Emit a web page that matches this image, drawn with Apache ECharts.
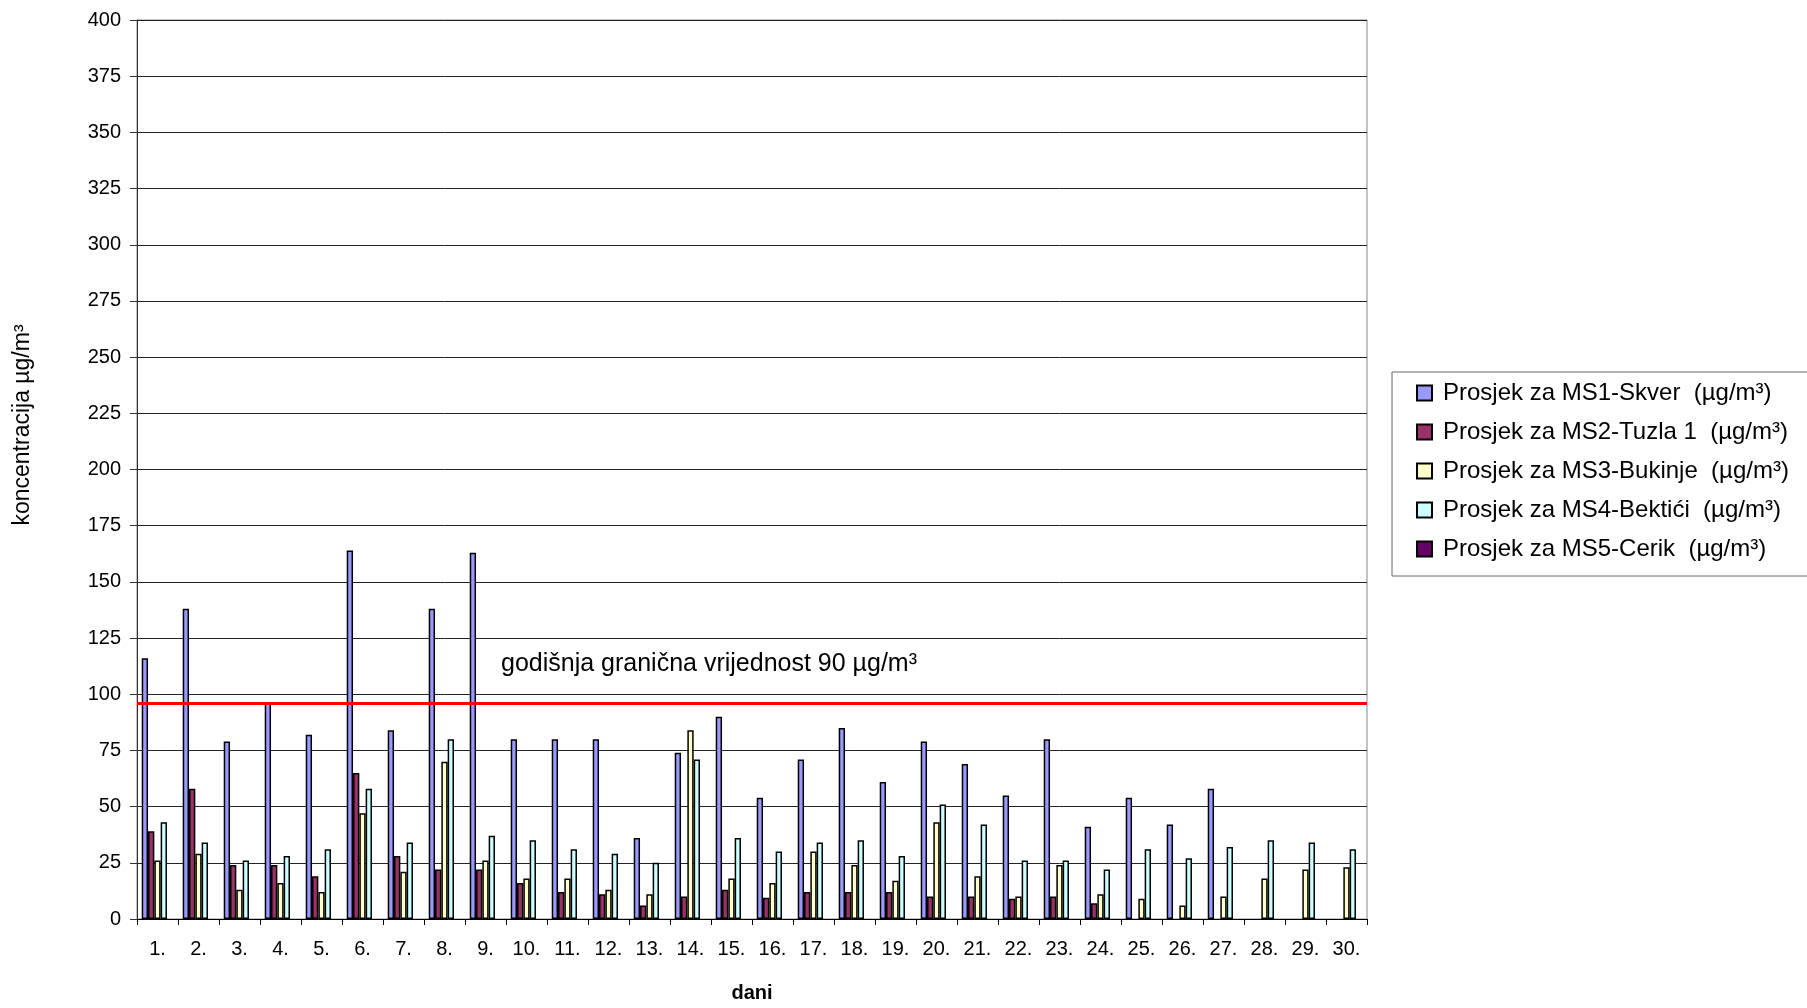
<!DOCTYPE html>
<html>
<head>
<meta charset="utf-8">
<script src="https://cdn.jsdelivr.net/npm/echarts@6/dist/echarts.min.js"></script>
<style>
html,body{margin:0;padding:0;background:#fff;}
#chart{width:1807px;height:1008px;}
</style>
</head>
<body>
<div id="chart"></div>
<script>
const days = ['1.','2.','3.','4.','5.','6.','7.','8.','9.','10.','11.','12.','13.','14.','15.','16.','17.','18.','19.','20.','21.','22.','23.','24.','25.','26.','27.','28.','29.','30.'];
const ms1 = [116,138,79,96,82,164,84,138,163,80,80,80,36,74,90,54,71,85,61,79,69,55,80,41,54,42,58,null,null,null];
const ms2 = [39,58,24,24,19,65,28,22,22,16,12,11,6,10,13,9.5,12,12,12,10,10,9,10,7,null,null,null,null,null,null];
const ms3 = [26,29,13,16,12,47,21,70,26,18,18,13,11,84,18,16,30,24,17,43,19,10,24,11,9,6,10,18,22,23];
const ms4 = [43,34,26,28,31,58,34,80,37,35,31,29,25,71,36,30,34,35,28,51,42,26,26,22,31,27,32,35,34,31];
const ms5 = [null,null,null,null,null,null,null,null,null,null,null,null,null,null,null,null,null,null,null,null,null,null,null,null,null,null,null,null,null,null];
const seriesNames = ['Prosjek za MS1-Skver  (µg/m³)','Prosjek za MS2-Tuzla 1  (µg/m³)','Prosjek za MS3-Bukinje  (µg/m³)','Prosjek za MS4-Bektići  (µg/m³)','Prosjek za MS5-Cerik  (µg/m³)'];
const seriesData = [ms1, ms2, ms3, ms4, ms5];
const colors = ['#9999FF','#993366','#FFFFCC','#CCFFFF','#660066'];
const limitValue = 96;
const limitLabel = 'godišnja granična vrijednost 90 µg/m³';
const yAxisTitle = 'koncentracija µg/m³';
const yTicks = {min:0, max:400, interval:25};

const FONT = 'Liberation Sans, Arial, sans-serif';
const chart = echarts.init(document.getElementById('chart'));
const series = seriesData.map((d, i) => ({
  name: seriesNames[i],
  type: 'bar',
  data: d,
  barGap: '0%',
  barCategoryGap: '23%',
  itemStyle: {color: colors[i], borderColor: '#000', borderWidth: 1.5},
  emphasis: {disabled: true},
  animation: false
}));
series[0].markLine = {
  silent: true,
  symbol: ['none','none'],
  label: {show: false},
  lineStyle: {color: '#FF0000', width: 3, type: 'solid'},
  data: [{yAxis: limitValue}],
  animation: false
};
chart.setOption({
  animation: false,
  backgroundColor: '#fff',
  textStyle: {fontFamily: FONT},
  grid: {left: 137, right: 440, top: 20, bottom: 88, show: true, borderColor: '#888', borderWidth: 1},
  legend: {
    orient: 'vertical',
    left: 1392, top: 372,
    padding: [9, 20, 15, 24],
    itemWidth: 15, itemHeight: 15,
    itemGap: 15,
    icon: 'rect',
    borderColor: '#666', borderWidth: 1,
    backgroundColor: '#fff',
    textStyle: {fontFamily: FONT, fontSize: 24, color: '#000', padding: [0,0,0,6]},
    data: seriesNames
  },
  xAxis: {
    type: 'category',
    data: days,
    name: 'dani',
    nameLocation: 'middle',
    nameGap: 64,
    nameTextStyle: {fontFamily: FONT, fontSize: 20, fontWeight: 'bold', color: '#000'},
    axisLine: {lineStyle: {color: '#000', width: 1}},
    axisTick: {show: true, length: 6, lineStyle: {color: '#000'}},
    axisLabel: {fontFamily: FONT, fontSize: 20, color: '#000', margin: 20},
    splitLine: {show: false}
  },
  yAxis: {
    type: 'value',
    min: yTicks.min, max: yTicks.max, interval: yTicks.interval,
    axisLine: {show: true, lineStyle: {color: '#333', width: 1}},
    axisTick: {show: true, length: 7, lineStyle: {color: '#333'}},
    axisLabel: {fontFamily: FONT, fontSize: 20, color: '#000', margin: 16},
    splitLine: {show: true, lineStyle: {color: '#222', width: 1}}
  },
  graphic: [{
    type: 'text',
    left: 501, top: 652,
    style: {text: limitLabel, fontFamily: FONT, fontSize: 25, fill: '#000'}
  }, {
    type: 'text',
    x: 23, y: 425,
    rotation: Math.PI / 2,
    style: {text: yAxisTitle, fontFamily: FONT, fontSize: 23, fill: '#000', align: 'center', verticalAlign: 'middle'}
  }],
  series: series
});
</script>
</body>
</html>
